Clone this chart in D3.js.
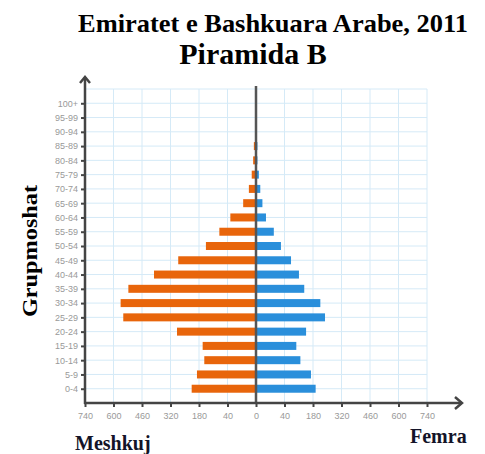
<!DOCTYPE html>
<html>
<head>
<meta charset="utf-8">
<script src="https://cdn.jsdelivr.net/npm/d3@7"></script>
<style>
  body { margin: 0; background: #fff; }
  svg { display: block; }
</style>
</head>
<body>
<svg id="chart"></svg>
<script>
var width = 485, height = 454;

// age groups, bottom to top
var ageGroups = ['0-4', '5-9', '10-14', '15-19', '20-24', '25-29', '30-34', '35-39', '40-44',
  '45-49', '50-54', '55-59', '60-64', '65-69', '70-74', '75-79', '80-84', '85-89', '90-94', '95-99', '100+'];
var males   = [216, 190, 154, 162, 288, 552, 565, 527, 401, 282, 146, 80, 36, 18, 10, 6, 4, 3, 0, 0, 0];
var females = [193, 170, 118, 98, 146, 239, 216, 137, 111, 72, 35, 25, 14, 9, 6, 4, 2, 2, 0, 0, 0];
// the axis labels are not evenly spaced in value, but the ticks are evenly spaced
var xTicks = [0, 40, 180, 320, 460, 600, 740];

var plot = { left: 85, center: 256, top: 89, bottom: 403, step: 28.5 };

var svg = d3.select('#chart')
  .attr('width', width)
  .attr('height', height);

var xRight = d3.scaleLinear()
  .domain(xTicks)
  .range(xTicks.map(function(d, i) { return plot.center + i * plot.step; }));
var xLeft = d3.scaleLinear()
  .domain(xTicks)
  .range(xTicks.map(function(d, i) { return plot.center - i * plot.step; }));

var y = d3.scalePoint()
  .domain(ageGroups)
  .range([plot.bottom, plot.top])
  .padding(1);

var gridColor = '#d5eaf7';
var axisColor = '#444';
var gridRight = xRight(740);

// grid
var grid = svg.append('g');
grid.selectAll('line.h')
  .data(ageGroups)
  .enter().append('line')
  .attr('x1', plot.left).attr('x2', gridRight)
  .attr('y1', function(d) { return y(d); })
  .attr('y2', function(d) { return y(d); })
  .attr('stroke', gridColor).attr('stroke-width', 1);
grid.append('line')
  .attr('x1', plot.left).attr('x2', gridRight)
  .attr('y1', plot.top).attr('y2', plot.top)
  .attr('stroke', gridColor);
var vx = xTicks.slice(1).map(function(t) { return xLeft(t); })
  .concat(xTicks.slice(1).map(function(t) { return xRight(t); }));
grid.selectAll('line.v')
  .data(vx)
  .enter().append('line')
  .attr('x1', function(d) { return d; }).attr('x2', function(d) { return d; })
  .attr('y1', plot.top).attr('y2', plot.bottom)
  .attr('stroke', gridColor);

// bars
var barH = 8;
svg.append('g').selectAll('rect')
  .data(ageGroups)
  .enter().append('rect')
  .attr('x', function(d, i) { return xLeft(males[i]); })
  .attr('y', function(d) { return y(d) - barH / 2; })
  .attr('width', function(d, i) { return plot.center - xLeft(males[i]); })
  .attr('height', barH)
  .attr('fill', '#e8650b');
svg.append('g').selectAll('rect')
  .data(ageGroups)
  .enter().append('rect')
  .attr('x', plot.center)
  .attr('y', function(d) { return y(d) - barH / 2; })
  .attr('width', function(d, i) { return xRight(females[i]) - plot.center; })
  .attr('height', barH)
  .attr('fill', '#2a8fdb');

// center line
svg.append('line')
  .attr('x1', plot.center).attr('x2', plot.center)
  .attr('y1', plot.top - 3).attr('y2', plot.bottom)
  .attr('stroke', '#555').attr('stroke-width', 2.5);

// axes
function styleAxis(g) {
  g.select('.domain').remove();
  g.selectAll('.tick line').attr('stroke', axisColor).attr('stroke-width', 2);
  g.selectAll('.tick text')
    .attr('fill', '#999')
    .style('font-family', 'Liberation Sans, Arial, sans-serif')
    .style('font-size', '9px');
}

svg.append('g')
  .attr('transform', 'translate(' + plot.left + ',0)')
  .call(d3.axisLeft(y).tickSize(4).tickPadding(3))
  .call(styleAxis);

svg.append('g')
  .attr('transform', 'translate(0,' + plot.bottom + ')')
  .call(d3.axisBottom(xLeft).tickValues(xTicks.slice(1)).tickSize(4).tickPadding(6))
  .call(styleAxis);
svg.append('g')
  .attr('transform', 'translate(0,' + plot.bottom + ')')
  .call(d3.axisBottom(xRight).tickValues(xTicks).tickSize(4).tickPadding(6))
  .call(styleAxis);

// axis lines with arrows
svg.append('line')
  .attr('x1', plot.left).attr('x2', plot.left)
  .attr('y1', plot.bottom + 1).attr('y2', 77)
  .attr('stroke', axisColor).attr('stroke-width', 2.5);
svg.append('path')
  .attr('d', 'M' + (plot.left - 5) + ',' + 83 + 'L' + plot.left + ',' + 77 + 'L' + (plot.left + 5) + ',' + 83)
  .attr('fill', 'none').attr('stroke', axisColor).attr('stroke-width', 2.5);
svg.append('line')
  .attr('x1', plot.left - 1).attr('x2', 462)
  .attr('y1', plot.bottom).attr('y2', plot.bottom)
  .attr('stroke', axisColor).attr('stroke-width', 2.5);
svg.append('path')
  .attr('d', 'M' + 455 + ',' + (plot.bottom - 6) + 'L' + 462 + ',' + plot.bottom + 'L' + 455 + ',' + (plot.bottom + 6))
  .attr('fill', 'none').attr('stroke', axisColor).attr('stroke-width', 2.5);

// titles
var serif = 'Liberation Serif, Times New Roman, serif';
svg.append('text')
  .attr('x', 273).attr('y', 32)
  .attr('text-anchor', 'middle')
  .style('font-family', serif).style('font-weight', 'bold').style('font-size', '26px')
  .attr('textLength', 390).attr('lengthAdjust', 'spacingAndGlyphs')
  .text('Emiratet e Bashkuara Arabe, 2011');
svg.append('text')
  .attr('x', 253).attr('y', 64)
  .attr('text-anchor', 'middle')
  .style('font-family', serif).style('font-weight', 'bold').style('font-size', '30px')
  .text('Piramida B');
svg.append('text')
  .attr('transform', 'translate(37,251) rotate(-90)')
  .attr('text-anchor', 'middle')
  .style('font-family', serif).style('font-weight', 'bold').style('font-size', '20px')
  .attr('textLength', 132).attr('lengthAdjust', 'spacingAndGlyphs')
  .text('Grupmoshat');
svg.append('text')
  .attr('x', 75).attr('y', 450)
  .attr('fill', '#141428')
  .style('font-family', serif).style('font-weight', 'bold').style('font-size', '20px')
  .text('Meshkuj');
svg.append('text')
  .attr('x', 410).attr('y', 443)
  .attr('fill', '#141428')
  .style('font-family', serif).style('font-weight', 'bold').style('font-size', '20px')
  .text('Femra');
</script>
</body>
</html>
